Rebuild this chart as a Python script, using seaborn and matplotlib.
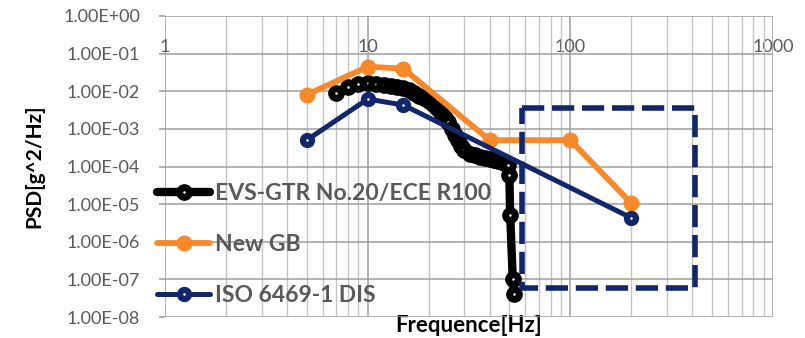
import matplotlib
matplotlib.use("Agg")
import matplotlib.pyplot as plt
import seaborn as sns
import pandas as pd
from matplotlib.ticker import FixedLocator, FixedFormatter, LogLocator, NullFormatter

sns.set_theme(style="white")
plt.rcParams['font.family'] = ['Lato', 'DejaVu Sans']

# ---- data ----
evs_freq = [7, 8, 9, 10, 11, 12, 13, 14, 15, 16, 17, 18, 19, 20, 21, 22, 23, 24, 25, 26, 27,
            28, 29, 30, 32, 34, 36, 38, 40, 42, 44, 46, 48, 49, 50, 50.5, 52, 53]
evs_psd = [0.009, 0.013, 0.016, 0.017, 0.016, 0.015, 0.014, 0.013, 0.012, 0.011, 0.009,
           0.0075, 0.0065, 0.0055, 0.0045, 0.0035, 0.0027, 0.002, 0.0015, 0.001, 0.0007,
           0.0005, 0.00036, 0.00028, 0.00022, 0.0002, 0.00018, 0.00017, 0.00016, 0.00015,
           0.00014, 0.00013, 0.00012, 0.00011, 6e-5, 5e-6, 1e-7, 4e-8]
gb_freq = [5, 10, 15, 40, 100, 200]
gb_psd = [0.008, 0.045, 0.04, 0.0005, 0.0005, 1.05e-5]
iso_freq = [5, 10, 15, 200]
iso_psd = [0.0005, 0.0062, 0.0043, 4.3e-6]
box_freq = [58, 410, 410, 58, 58]
box_psd = [3.5e-3, 3.5e-3, 6e-8, 6e-8, 3.5e-3]

series_names = ["EVS-GTR No.20/ECE R100", "New GB", "ISO 6469-1 DIS"]
series_colors = ["#000000", "#F7892B", "#12276B"]
xtick_vals = [1, 10, 100, 1000]
xtick_labels = ["1", "10", "100", "1000"]
ytick_vals = [1e0, 1e-1, 1e-2, 1e-3, 1e-4, 1e-5, 1e-6, 1e-7, 1e-8]
ytick_labels = ["1.00E+00", "1.00E-01", "1.00E-02", "1.00E-03", "1.00E-04",
                "1.00E-05", "1.00E-06", "1.00E-07", "1.00E-08"]

df = pd.concat([
    pd.DataFrame({"f": evs_freq, "psd": evs_psd, "s": series_names[0]}),
    pd.DataFrame({"f": gb_freq, "psd": gb_psd, "s": series_names[1]}),
    pd.DataFrame({"f": iso_freq, "psd": iso_psd, "s": series_names[2]}),
], ignore_index=True)

fig = plt.figure(figsize=(8.05, 3.38), dpi=100)
ax = fig.add_axes([165 / 805, 1 - 317 / 338, 608 / 805, 301 / 338])
ax.set_xscale("log")
ax.set_yscale("log")

gray = "#595959"
styles = {
    series_names[0]: dict(lw=6.0, ms=7.0, mew=5.0, mfc="white"),
    series_names[1]: dict(lw=4.2, ms=10.5, mew=1, mfc=series_colors[1]),
    series_names[2]: dict(lw=3.6, ms=6.5, mew=4.5, mfc="white"),
}
for i, name in enumerate(series_names):
    sub = df[df["s"] == name]
    st = styles[name]
    sns.lineplot(data=sub, x="f", y="psd", ax=ax, color=series_colors[i], sort=False,
                 estimator=None, label=name, linewidth=st["lw"], marker="o",
                 markersize=st["ms"], markeredgewidth=st["mew"],
                 markerfacecolor=st["mfc"], markeredgecolor=series_colors[i],
                 zorder=3 + i)

ax.plot(box_freq, box_psd, color="#12276B", lw=4.0, dashes=(4, 1.4), zorder=6)

ax.set_xlim(1, 1000)
ax.set_ylim(1e-8, 1)

ax.xaxis.set_major_locator(FixedLocator(xtick_vals))
ax.xaxis.set_major_formatter(FixedFormatter(xtick_labels))
ax.xaxis.set_minor_locator(LogLocator(base=10, subs=range(2, 10)))
ax.xaxis.set_minor_formatter(NullFormatter())
ax.yaxis.set_major_locator(FixedLocator(ytick_vals))
ax.yaxis.set_major_formatter(FixedFormatter(ytick_labels))
ax.yaxis.set_minor_locator(LogLocator(base=10, subs=range(2, 10)))
ax.yaxis.set_minor_formatter(NullFormatter())

ax.grid(True, which="major", color="#9E9E9E", lw=1.1, zorder=0)
ax.grid(True, which="minor", color="#C4C4C4", lw=1.0, zorder=0)
ax.set_axisbelow(True)
for sp in ax.spines.values():
    sp.set_visible(False)

ax.tick_params(axis="x", which="both", bottom=False, top=False, labelbottom=False,
               labeltop=True, pad=-34, labelsize=13, labelcolor=gray)
ax.tick_params(axis="y", which="major", left=True, length=4, color="#A6A6A6",
               labelsize=13, labelcolor=gray, pad=14)
ax.tick_params(axis="y", which="minor", left=False)

ax.set_xlabel("Frequence[Hz]", fontsize=16, fontweight="bold", color="black")
ax.set_ylabel("PSD[g^2/Hz]", fontsize=15, fontweight="bold", color="black")
ax.xaxis.set_label_coords(0.5, 0.008)
ax.yaxis.set_label_coords(-0.198, 0.5)

leg = ax.legend(loc="upper left", bbox_to_anchor=(146 / 805, 1 - 172 / 338),
                bbox_transform=fig.transFigure, frameon=False,
                prop={"weight": "bold", "size": 16.5}, handlelength=2.3,
                handletextpad=0.2, labelspacing=1.3, borderpad=0,
                labelcolor=gray)

fig.savefig("out.png", dpi=100)
